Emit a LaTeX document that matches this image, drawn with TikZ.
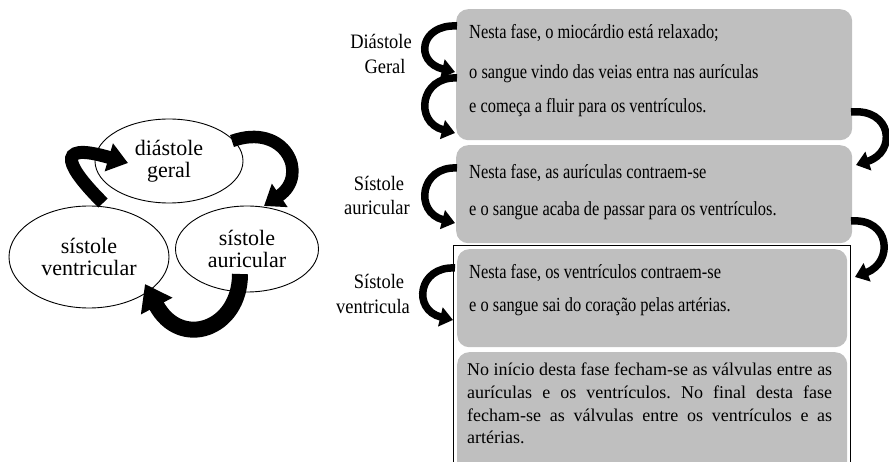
\documentclass[tikz,border=0pt]{standalone}
\usepackage{fontspec}
\setmainfont{Liberation Serif}
\usetikzlibrary{arrows.meta,shapes.geometric}
\definecolor{boxgray}{RGB}{191,191,191}
\newcommand{\nx}[1]{\scalebox{0.82}[1]{#1}}
\newcommand{\lx}[1]{\scalebox{0.9}[1]{#1}}
\begin{document}
\begin{tikzpicture}[x=1pt,y=-1pt,
  ell/.style={ellipse, draw, line width=0.9pt, fill=white, inner sep=0pt, align=center,
    font=\fontsize{22}{22.5}\selectfont},
  gbox/.style={fill=boxgray, rounded corners=12pt, anchor=north west, inner sep=0pt},
  bigarr/.style={line width=13pt, -{Triangle[width=28pt,length=20pt]}},
  smallarr/.style={line width=7.5pt, -{Triangle[width=19pt,length=13pt]}},
  txt/.style={anchor=base west, inner sep=0pt, font=\fontsize{20}{24}\selectfont},
  lbl/.style={anchor=base, inner sep=0pt, font=\fontsize{20.5}{24}\selectfont}]
\useasboundingbox (0,0) rectangle (889,462);
\clip (0,0) rectangle (889,462);

% left cycle
\node[ell, minimum width=148pt, minimum height=84pt] (dg) at (169,161) {diástole\\geral};
\node[ell, minimum width=160pt, minimum height=102pt] (sv) at (89,257) {sístole\\ventricular};
\node[ell, minimum width=143pt, minimum height=86pt] (sa) at (247,249) {sístole\\auricular};

\coordinate (aS) at (103,203); \coordinate (aE) at (128,163);
\coordinate (bS) at (232,141); \coordinate (bE) at (264,206);
\coordinate (cS) at (240,274); \coordinate (cE) at (145,284);
\draw[bigarr] (aS) .. controls (70,170) and (50,140) .. (aE);
\draw[line width=12.5pt, -{Triangle[width=27pt,length=19pt]}] (bS) .. controls (285,122) and (310,175) .. (bE);
\draw[line width=16pt, -{Triangle[width=34pt,length=25pt]}] (cS) .. controls (240,330) and (180,350) .. (cE);

% right boxes
\node[gbox, minimum width=396pt, minimum height=131pt] (b1) at (456,9) {};
\node[gbox, minimum width=396pt, minimum height=98pt] (b2) at (456,145) {};
\node[draw, line width=1.4pt, anchor=north west, minimum width=397pt, minimum height=240pt, inner sep=0pt] (fr) at (453,245) {};
\node[gbox, minimum width=390pt, minimum height=98pt] (b3) at (457,249) {};
\node[gbox, minimum width=390pt, minimum height=125pt] (b4) at (457,352) {};

\node[txt] (t11) at (469,39) {\nx{Nesta fase, o miocárdio está relaxado;}};
\node[txt] (t12) at (469,79) {\nx{o sangue vindo das veias entra nas aurículas}};
\node[txt] (t13) at (469,113) {\nx{e começa a fluir para os ventrículos.}};
\node[txt] (t21) at (469,179) {\nx{Nesta fase, as aurículas contraem-se}};
\node[txt] (t22) at (469,216) {\nx{e o sangue acaba de passar para os ventrículos.}};
\node[txt] (t31) at (469,279) {\nx{Nesta fase, os ventrículos contraem-se}};
\node[txt] (t32) at (469,312) {\nx{e o sangue sai do coração pelas artérias.}};
\node[anchor=north west, inner sep=0pt, align=left, font=\fontsize{18}{22.6}\selectfont] (t4) at (467,363)
  {\makebox[365pt][s]{No início desta fase fecham-se as válvulas entre as}\\
   \makebox[365pt][s]{aurículas e os ventrículos.\ No final desta fase}\\
   \makebox[365pt][s]{fecham-se as válvulas entre os ventrículos e as}\\
   artérias.};

% labels
\node[lbl] (ld1) at (381,49) {\lx{Diástole}};
\node[lbl] (ld2) at (385,74) {\lx{Geral}};
\node[lbl] (la1) at (379,191) {\lx{Sístole}};
\node[lbl] (la2) at (377,215) {\lx{auricular}};
\node[lbl] (lv1) at (379,289) {\lx{Sístole}};
\node[lbl] (lv2) at (373,314) {\lx{ventricula}};

% small curved arrows
\coordinate (l1s) at (457,26);  \coordinate (l1e) at (455,72);
\coordinate (l2s) at (457,78);  \coordinate (l2e) at (455,133);
\coordinate (l3s) at (457,168); \coordinate (l3e) at (455,223);
\coordinate (l4s) at (455,268); \coordinate (l4e) at (453,320);
\coordinate (r1s) at (851,112); \coordinate (r1e) at (856,165);
\coordinate (r2s) at (851,221); \coordinate (r2e) at (855,277);
\draw[smallarr] (l1s) .. controls (420,24) and (414,62) .. (l1e);
\draw[smallarr] (l2s) .. controls (420,76) and (414,122) .. (l2e);
\draw[smallarr] (l3s) .. controls (420,166) and (414,212) .. (l3e);
\draw[smallarr] (l4s) .. controls (418,266) and (412,310) .. (l4e);
\draw[smallarr] (r1s) .. controls (892,108) and (897,152) .. (r1e);
\draw[smallarr] (r2s) .. controls (890,218) and (894,262) .. (r2e);
\end{tikzpicture}
\end{document}
